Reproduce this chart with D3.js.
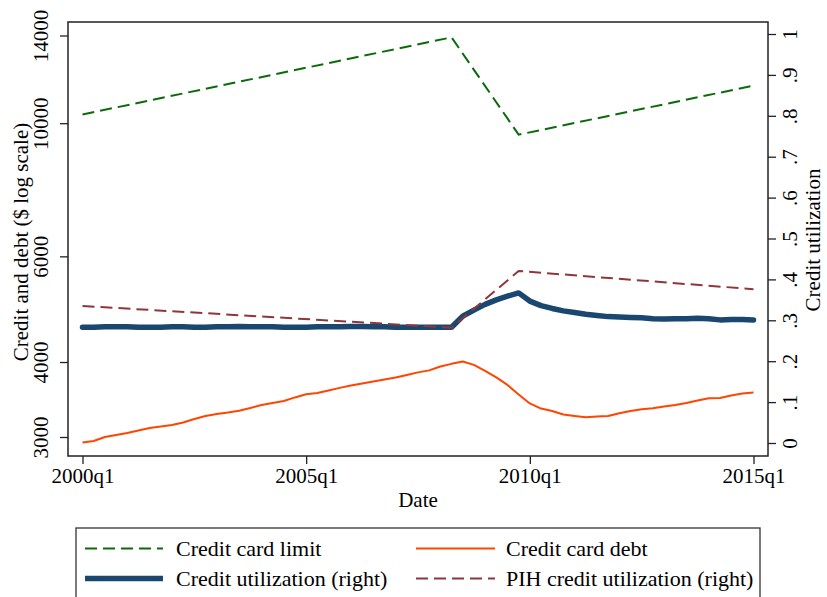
<!DOCTYPE html>
<html>
<head>
<meta charset="utf-8">
<script src="https://cdn.jsdelivr.net/npm/d3@7"></script>
<style>
  body { margin: 0; background: #fff; }
  svg text { font-family: "Liberation Serif", "Times New Roman", serif; fill: #000; }
</style>
</head>
<body>
<svg id="chart" width="827" height="597"></svg>
<script>
// quarters counted from 2000q1 (0) to 2015q1 (60)
var tickQuarters = [0, 20, 40, 60]
var tickLabels = ["2000q1", "2005q1", "2010q1", "2015q1"]

var leftTicks = [3000, 4000, 6000, 10000, 14000]
var rightTicks = [0, 0.1, 0.2, 0.3, 0.4, 0.5, 0.6, 0.7, 0.8, 0.9, 1]
var rightTickLabels = ["0", ".1", ".2", ".3", ".4", ".5", ".6", ".7", ".8", ".9", "1"]

// Credit card limit: straight pieces between these quarters
var limitQuarters = [0, 33, 39, 60]
var limitValues = [10340, 13900, 9570, 11550]

// Credit card debt, every quarter
var debtValues = [2937, 2954, 3000, 3023, 3047, 3076, 3106, 3124, 3142, 3172,
    3215, 3252, 3277, 3296, 3319, 3353, 3393, 3419, 3445, 3492,
    3535, 3553, 3587, 3622, 3654, 3685, 3713, 3739, 3768, 3807,
    3844, 3874, 3931, 3972, 4007, 3957, 3867, 3771, 3664, 3532,
    3412, 3346, 3315, 3271, 3252, 3236, 3246, 3252, 3286, 3315,
    3338, 3351, 3373, 3393, 3419, 3452, 3481, 3485, 3519, 3546,
    3560]

// Credit utilization (right axis), every quarter
var utilValues = [0.283, 0.283, 0.284, 0.284, 0.284, 0.283, 0.283, 0.283, 0.284, 0.284,
    0.283, 0.283, 0.284, 0.284, 0.285, 0.284, 0.284, 0.284, 0.283, 0.283,
    0.283, 0.284, 0.284, 0.284, 0.285, 0.285, 0.284, 0.284, 0.283, 0.283,
    0.283, 0.283, 0.283, 0.283, 0.310, 0.325, 0.339, 0.350, 0.359, 0.367,
    0.347, 0.336, 0.329, 0.323, 0.319, 0.315, 0.312, 0.309, 0.308, 0.307,
    0.306, 0.304, 0.303, 0.304, 0.304, 0.305, 0.304, 0.301, 0.302, 0.302,
    0.301]

// PIH credit utilization (right axis): straight pieces
var pihQuarters = [0, 33, 39, 60]
var pihValues = [0.335, 0.282, 0.4205, 0.376]

var legendItems = [
    {label: "Credit card limit", color: "#0b6b0b", width: 2, dash: "12,6", col: 0, row: 0},
    {label: "Credit card debt", color: "#ff4500", width: 2, dash: null, col: 1, row: 0},
    {label: "Credit utilization (right)", color: "#1a476f", width: 5.5, dash: null, col: 0, row: 1},
    {label: "PIH credit utilization (right)", color: "#90353b", width: 2, dash: "12,6", col: 1, row: 1}
]

var svg = d3.select("#chart")
var frame = {left: 68, right: 768, top: 22, bottom: 456}
var fontSize = 21
var legendFontSize = 22

var x = d3.scaleLinear().domain([0, 60]).range([82.5, 753.5])
var yL = d3.scaleLog().domain([3000, 14000]).range([437, 35.5])
var yR = d3.scaleLinear().domain([0, 1]).range([443, 34])

// Lines
var lineLeft = d3.line().x(d => x(d[0])).y(d => yL(d[1]))
var lineRight = d3.line().x(d => x(d[0])).y(d => yR(d[1]))

var limitData = limitQuarters.map((q, i) => [q, limitValues[i]])
var debtData = debtValues.map((v, i) => [i, v])
var utilData = utilValues.map((v, i) => [i, v])
var pihData = pihQuarters.map((q, i) => [q, pihValues[i]])

svg.append("path").datum(limitData)
    .attr("d", lineLeft)
    .attr("fill", "none")
    .attr("stroke", legendItems[0].color)
    .attr("stroke-width", 2)
    .attr("stroke-dasharray", "12,6")

svg.append("path").datum(debtData)
    .attr("d", lineLeft)
    .attr("fill", "none")
    .attr("stroke", legendItems[1].color)
    .attr("stroke-width", 2)
    .attr("stroke-linejoin", "round")

svg.append("path").datum(utilData)
    .attr("d", lineRight)
    .attr("fill", "none")
    .attr("stroke", legendItems[2].color)
    .attr("stroke-width", 5.5)
    .attr("stroke-linejoin", "round")
    .attr("stroke-linecap", "round")

svg.append("path").datum(pihData)
    .attr("d", lineRight)
    .attr("fill", "none")
    .attr("stroke", legendItems[3].color)
    .attr("stroke-width", 2)
    .attr("stroke-dasharray", "12,6")

// Plot frame
svg.append("rect")
    .attr("x", frame.left)
    .attr("y", frame.top)
    .attr("width", frame.right - frame.left)
    .attr("height", frame.bottom - frame.top)
    .attr("fill", "none")
    .attr("stroke", "#222")
    .attr("stroke-width", 1.5)

// X axis
var xAxis = svg.append("g")
    .attr("transform", "translate(0," + frame.bottom + ")")
    .call(d3.axisBottom(x).tickValues(tickQuarters)
        .tickFormat((d, i) => tickLabels[i])
        .tickSize(8).tickSizeOuter(0).tickPadding(4))
xAxis.select(".domain").remove()
xAxis.selectAll("line").attr("stroke", "#222").attr("stroke-width", 1.3)
xAxis.selectAll("text")
    .style("font-size", fontSize + "px")
    .attr("fill", "#000")

// Left axis
var leftAxis = svg.append("g")
    .attr("transform", "translate(" + frame.left + ",0)")
    .call(d3.axisLeft(yL).tickValues(leftTicks).tickFormat(d3.format("d"))
        .tickSize(8).tickSizeOuter(0))
leftAxis.select(".domain").remove()
leftAxis.selectAll("line").attr("stroke", "#222").attr("stroke-width", 1.3)
leftAxis.selectAll("text")
    .attr("x", null).attr("dy", null)
    .attr("text-anchor", "middle")
    .attr("transform", "translate(-20,0) rotate(-90)")
    .style("font-size", fontSize + "px")
    .attr("fill", "#000")

// Right axis
var rightAxis = svg.append("g")
    .attr("transform", "translate(" + frame.right + ",0)")
    .call(d3.axisRight(yR).tickValues(rightTicks)
        .tickFormat((d, i) => rightTickLabels[i])
        .tickSize(8).tickSizeOuter(0))
rightAxis.select(".domain").remove()
rightAxis.selectAll("line").attr("stroke", "#222").attr("stroke-width", 1.3)
rightAxis.selectAll("text")
    .attr("x", null).attr("dy", null)
    .attr("text-anchor", "middle")
    .attr("transform", "translate(29,0) rotate(-90)")
    .style("font-size", fontSize + "px")
    .attr("fill", "#000")

// Axis titles
svg.append("text")
    .attr("transform", "translate(28,242) rotate(-90)")
    .attr("text-anchor", "middle")
    .style("font-size", fontSize + "px")
    .text("Credit and debt ($ log scale)")

svg.append("text")
    .attr("transform", "translate(820,240) rotate(-90)")
    .attr("text-anchor", "middle")
    .style("font-size", fontSize + "px")
    .text("Credit utilization")

svg.append("text")
    .attr("x", 418).attr("y", 507)
    .attr("text-anchor", "middle")
    .style("font-size", fontSize + "px")
    .text("Date")

// Legend
svg.append("rect")
    .attr("x", 76).attr("y", 528)
    .attr("width", 684).attr("height", 90)
    .attr("fill", "none")
    .attr("stroke", "#333")
    .attr("stroke-width", 1.3)

var colSample = [[85, 163], [416, 495]]
var colText = [176, 506]
var rowY = [548.5, 578.5]

var legend = svg.append("g").selectAll("g")
    .data(legendItems)
    .enter().append("g")

legend.append("line")
    .attr("x1", d => colSample[d.col][0])
    .attr("x2", d => colSample[d.col][1])
    .attr("y1", d => rowY[d.row])
    .attr("y2", d => rowY[d.row])
    .attr("stroke", d => d.color)
    .attr("stroke-width", d => d.width)
    .attr("stroke-dasharray", d => d.dash)

legend.append("text")
    .attr("x", d => colText[d.col])
    .attr("y", d => rowY[d.row] + 7.5)
    .style("font-size", legendFontSize + "px")
    .text(d => d.label)
</script>
</body>
</html>
